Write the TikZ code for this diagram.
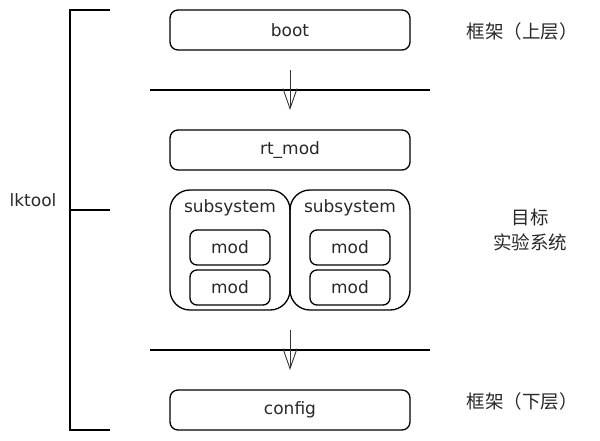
\documentclass[tikz,border=0pt]{standalone}
\usepackage{fontspec}
\setmainfont{DejaVu Sans}
\newfontfamily\cjk{Noto Sans CJK SC}
\usetikzlibrary{arrows.meta}
\definecolor{txt}{RGB}{40,40,40}
\begin{document}
\begin{tikzpicture}[x=1pt,y=-1pt,
  line width=1.3pt,
  box/.style={draw, rounded corners=8pt, minimum width=240pt, minimum height=40pt, inner sep=0pt, text=txt, font=\fontsize{17}{20}\selectfont},
  modbox/.style={draw, rounded corners=7pt, minimum width=80pt, minimum height=35pt, inner sep=0pt, text=txt, font=\fontsize{17}{20}\selectfont},
  subbox/.style={draw, rounded corners=20pt, minimum width=120pt, minimum height=120pt, inner sep=0pt},
  lbl/.style={font=\fontsize{17}{20}\selectfont, inner sep=0pt, text=txt},
  cjklbl/.style={font=\cjk\fontsize{18.5}{25}\selectfont, inner sep=0pt, align=center, text=txt},
  sep/.style={line width=1.3pt},
  flow/.style={line width=0.9pt, draw=black!80, -{Straight Barb[length=20pt,width=14pt,line width=0.9pt]}}
]
\useasboundingbox (0,0) rectangle (600,440);

% bracket
\coordinate (bt) at (70,10);
\coordinate (bm) at (70,210);
\coordinate (bb) at (70,430);
\coordinate (tt) at (110,10);
\coordinate (tm) at (110,210);
\coordinate (tb) at (110,430);
\draw (tt) -- (bt) -- (bb) -- (tb);
\draw (bm) -- (tm);
\node[lbl] (lktool) at (33,200) {lktool};

% boxes
\node[box] (boot) at (290,30) {boot};
\node[box] (rtmod) at (290,150) {rt\_mod};
\node[box] (config) at (290,410) {config};

\node[subbox] (subL) at (230,250) {};
\node[subbox] (subR) at (350,250) {};
\node[lbl] (subLt) at (230,208) {subsystem};
\node[lbl] (subRt) at (350,208) {subsystem};
\node[modbox] (m1) at (230,247.5) {mod};
\node[modbox] (m2) at (230,287.5) {mod};
\node[modbox] (m3) at (350,247.5) {mod};
\node[modbox] (m4) at (350,287.5) {mod};

% separators
\coordinate (s1a) at (150,90);
\coordinate (s1b) at (430,90);
\coordinate (s2a) at (150,350);
\coordinate (s2b) at (430,350);
\draw[sep] (s1a) -- (s1b);
\draw[sep] (s2a) -- (s2b);
\coordinate (a1s) at (290,70);
\coordinate (a1e) at (290,110);
\coordinate (a2s) at (290,330);
\coordinate (a2e) at (290,370);
\draw[flow] (a1s) -- (a1e);
\draw[flow] (a2s) -- (a2e);

% right labels
\node[cjklbl] (top) at (522,31) {框架（上层）};
\node[cjklbl] (mid) at (530,230) {目标\\实验系统};
\node[cjklbl] (bot) at (522,401) {框架（下层）};
\end{tikzpicture}
\end{document}
